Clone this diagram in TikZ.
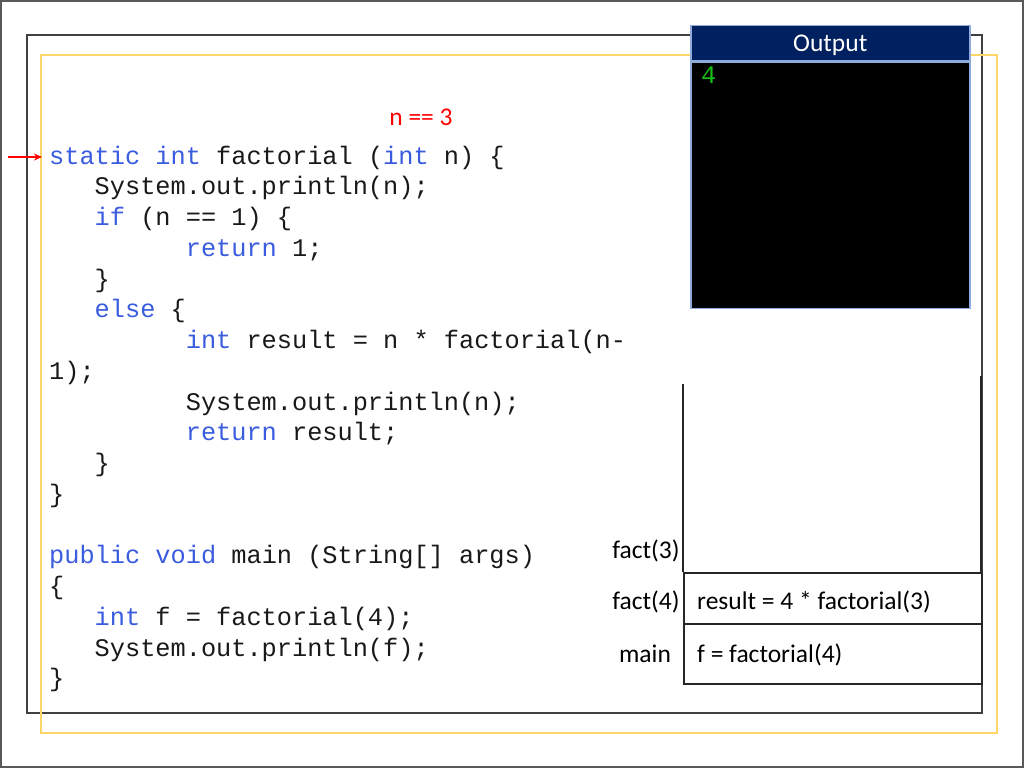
\documentclass[tikz,border=0pt]{standalone}
\usepackage{fontspec}
\setmainfont{Carlito}
\newfontfamily\codefont{Liberation Mono}
\usetikzlibrary{positioning,arrows.meta}

\definecolor{kwblue}{RGB}{58,92,222}
\definecolor{navy}{RGB}{0,32,96}
\definecolor{boxblue}{RGB}{143,170,220}
\definecolor{termgreen}{RGB}{20,190,20}
\definecolor{slidegold}{RGB}{255,214,102}
\definecolor{framegray}{RGB}{64,64,64}

\newcommand{\code}{\codefont\fontsize{25.3}{30}\selectfont}
\newcommand{\slidetext}{\fontsize{25.5}{30}\selectfont}
\newcommand{\kw}[1]{\textcolor{kwblue}{#1}}
\newlength{\cw}
\setlength{\cw}{15.18pt}
\newcommand{\ind}[1]{\hspace*{#1\cw}}

\begin{document}
\begin{tikzpicture}[x=1pt,y=-1pt,
        codeline/.style={anchor=base west,inner sep=0pt,font=\code,text=black!90},
        stacklbl/.style={anchor=base,inner sep=0pt,font=\slidetext},
        stackframe/.style={draw=black!85,line width=2pt,minimum width=298pt,inner sep=0pt,anchor=north west},
        frametext/.style={anchor=base west,inner sep=0pt,font=\slidetext}]
    \useasboundingbox (0,0) rectangle (1024,768);
    \fill[white] (0,0) rectangle (1024,768);
    \draw[black!65,line width=1.5pt] (1,1) rectangle (1023,767);
    \draw[framegray,line width=2pt] (27,35) rectangle (982,713);
    \draw[slidegold,line width=2.5pt] (41,55) rectangle (997,733);

    % code
    \foreach \codetext [count=\i] in {
        {\kw{static} \kw{int} factorial (\kw{int} n) \{},
        {\ind{3}System.out.println(n);},
        {\ind{3}\kw{if} (n == 1) \{},
        {\ind{9}\kw{return} 1;},
        {\ind{3}\}},
        {\ind{3}\kw{else} \{},
        {\ind{9}\kw{int} result = n * factorial(n-},
        {1);},
        {\ind{9}System.out.println(n);},
        {\ind{9}\kw{return} result;},
        {\ind{3}\}},
        {\}},
        {},
        {\kw{public} \kw{void} main (String[] args)},
        {\{},
        {\ind{3}\kw{int} f = factorial(4);},
        {\ind{3}System.out.println(f);},
        {\}}}
      \node[codeline] (code\i) at (49,{164+30.75*(\i-1)}) {\codetext};

    \node[anchor=base,inner sep=0pt,font=\slidetext,text=red] (ncond) at (421,125) {n == 3};
    \coordinate (arrowtail) at (8,157);
    \coordinate (arrowtip) at (42,157);
    \draw[red,line width=1.5pt,-{Stealth[length=8pt,width=7pt]}] (arrowtail) -- (arrowtip);

    % output window
    \node[fill=navy,draw=boxblue,line width=1.5pt,minimum width=279pt,minimum height=35pt,
          text depth=0pt,font=\slidetext,text=white,anchor=north west] (outhead) at (690,25) {Output};
    \node[fill=black,draw=boxblue,line width=1.5pt,minimum width=279pt,minimum height=246pt,
          below=0pt of outhead] (outbody) {};
    \node[anchor=base west,inner sep=0pt,font=\code,text=termgreen] (outval) at (701,83) {4};

    % call stack
    \node[stackframe,minimum height=60pt] (fmain) at (683,623) {};
    \node[stackframe,minimum height=51pt] (ffact4) at (683,572) {};
    \node[inner sep=0pt,minimum width=298pt,minimum height=188pt,anchor=north west] (ffact3) at (683,384) {};
    \draw[black!85,line width=2pt] (ffact3.north west) -- (ffact3.south west);
    \draw[black!85,line width=2pt] ([yshift=8pt]ffact3.north east) -- (ffact3.south east);

    \node[stacklbl] (lblfact3) at (646,558) {fact(3)};
    \node[stacklbl] (lblfact4) at (646,609) {fact(4)};
    \node[stacklbl] (lblmain) at (645,662) {main};
    \node[frametext] (txtfact4) at (697,609) {result = 4 * factorial(3)};
    \node[frametext] (txtmain) at (697,662) {f = factorial(4)};
\end{tikzpicture}
\end{document}
